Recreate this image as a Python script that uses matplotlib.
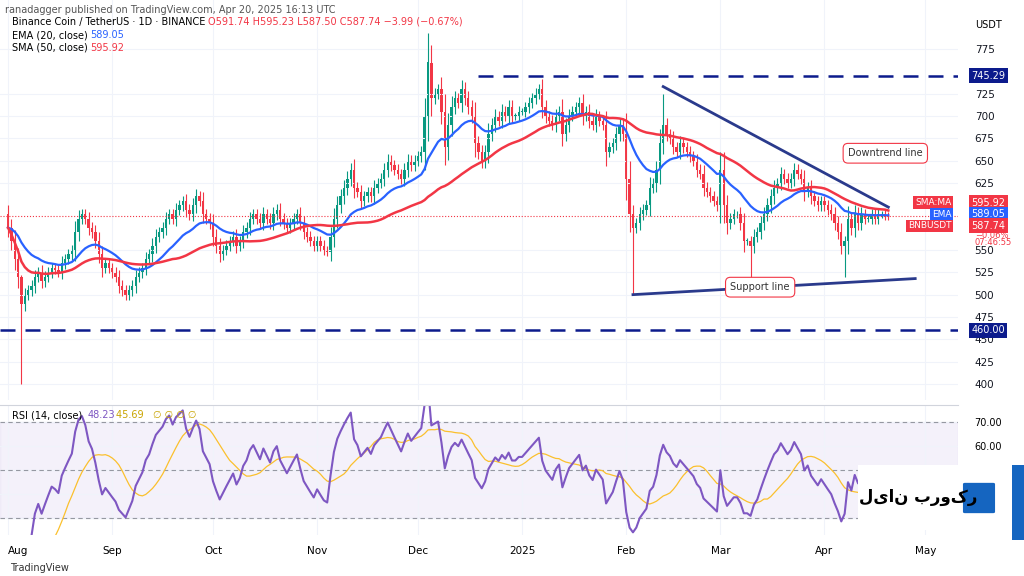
import numpy as np
import pandas as pd
import matplotlib.pyplot as plt
from matplotlib.patches import Rectangle, FancyBboxPatch

# daily closes, Aug 1 2024 .. Apr 20 2025
aug = [575,560,540,520,490,500,505,510,520,525,515,520,525,530,528,525,535,540,545,550,570,585,590,585,575,570,560,545,530,535,530]
sep = [525,520,510,505,500,505,510,520,525,530,540,545,555,565,570,575,585,590,585,595,600,605,595,590,600,610,605,590,585,580]
oct_ = [565,555,545,550,555,560,565,555,560,570,575,585,590,585,580,590,585,580,590,595,585,580,575,580,585,590,580,570,565,560,555]
nov = [560,555,550,548,565,585,600,610,620,630,640,620,615,605,610,615,610,620,625,630,640,650,645,640,635,630,640,650,645,650]
dec = [655,660,700,760,720,725,730,705,665,690,710,720,715,730,720,710,700,670,660,650,660,680,690,700,695,705,700,710,700,700,705]
jan = [705,710,715,720,725,730,710,700,695,690,700,705,680,690,700,705,710,715,700,705,695,690,700,695,690,660,665,670,680,690,680]
feb = [630,590,575,580,590,595,600,620,625,640,670,690,680,675,665,660,670,665,660,655,650,640,635,620,615,610,605,600]
mar = [640,600,580,585,590,590,580,560,560,555,565,570,580,590,600,610,620,625,635,630,625,630,640,635,630,615,620,610,605,600,605]
apr = [600,595,590,580,570,555,560,585,575,590,580,590,585,585,590,585,590,590,588,587.74]
closes = aug + sep + oct_ + nov + dec + jan + feb + mar + apr
first_open = 590
# notable wick extremes: day index -> (high, low)
wicks = {4: (522, 400), 125: (793, None), 186: (None, 500), 195: (725, None), 221: (None, 510), 249: (None, 520)}

month_labels = ["Aug", "Sep", "Oct", "Nov", "Dec", "2025", "Feb", "Mar", "Apr", "May"]
month_days = [0, 31, 61, 92, 122, 153, 184, 212, 243, 273]
price_ticks = [400, 425, 450, 475, 500, 525, 550, 625, 650, 675, 700, 725, 775]

c = pd.Series(closes, dtype=float)
o = c.shift(1).fillna(first_open)
hi = np.maximum(o, c) + (c - o).abs() * 0.4 + 4
lo = np.minimum(o, c) - (c - o).abs() * 0.4 - 4
for d, (h, l) in wicks.items():
    if h is not None: hi[d] = h
    if l is not None: lo[d] = l
ema = c.ewm(span=20, adjust=False).mean()
sma = c.rolling(50, min_periods=1).mean()
delta = c.diff().fillna(0)
gain = delta.clip(lower=0).ewm(alpha=1/14, adjust=False).mean()
loss = (-delta.clip(upper=0)).ewm(alpha=1/14, adjust=False).mean()
rsi = 100 - 100 / (1 + gain / loss.replace(0, 1e-9))
rsi_ma = rsi.rolling(14, min_periods=1).mean()

UP, DN = "#089981", "#f23645"
NAVY = "#0c1b8c"
fig = plt.figure(figsize=(10.24, 5.76), dpi=100)
W, H = 1024, 576
ax = fig.add_axes([0, (H - 400) / H, 958 / W, 400 / H])
ax2 = fig.add_axes([0, (H - 535) / H, 958 / W, 130 / H], sharex=ax)
xlim = (-8 / 3.36, 950 / 3.36)
ax.set_xlim(*xlim)
ax.set_ylim(382, 830)
ax2.set_ylim(22.9, 77.1)

days = np.arange(len(closes))
for d in days:
    col = UP if c[d] >= o[d] else DN
    ax.vlines(d, lo[d], hi[d], color=col, lw=0.8)
    b = min(o[d], c[d]); h = max(abs(c[d] - o[d]), 0.8)
    ax.add_patch(Rectangle((d - 0.35, b), 0.7, h, color=col, lw=0))
ax.plot(days, ema, color="#2962ff", lw=1.6)
ax.plot(days, sma, color="#f23645", lw=1.8)
ax.axhline(745.29, xmin=(140 - xlim[0]) / (xlim[1] - xlim[0]), color=NAVY, ls=(0, (6, 4)), lw=1.8)
ax.axhline(460, color=NAVY, ls=(0, (6, 4)), lw=1.8)
ax.axhline(587.74, color=DN, ls=":", lw=0.8)
ax.plot([195, 262], [733, 598], color="#2a3a8c", lw=2)
ax.plot([186, 270], [500, 518], color="#2a3a8c", lw=2)
for txt, xy in [("Downtrend line", (250, 655)), ("Support line", (215, 505))]:
    ax.text(xy[0], xy[1], txt, fontsize=7, color="#333333",
            bbox=dict(boxstyle="round,pad=0.5", fc="white", ec=DN, lw=0.8))

ax.yaxis.tick_right()
ax.set_yticks(price_ticks)
ax.tick_params(axis="y", length=0, labelsize=7.5, colors="#131722", pad=12)
ax.tick_params(axis="x", bottom=False, labelbottom=False)
for s in ax.spines.values(): s.set_visible(False)
ax.grid(color="#f0f3fa", lw=0.8)

def tag(axis, y, text, color):
    axis.text(xlim[1] + 4, y, text, color="white", fontsize=7, va="center", ha="left",
              bbox=dict(boxstyle="square,pad=0.25", fc=color, ec="none"), clip_on=False)
tag(ax, 745.29, "745.29", NAVY)
tag(ax, 460, "460.00", NAVY)
tag(ax, 603, "595.92", DN)
tag(ax, 590, "589.05", "#2962ff")
tag(ax, 577, "587.74", DN)
for y, t, colr in [(603, "SMA:MA", DN), (590, "EMA", "#2962ff"), (577, "BNBUSDT", DN)]:
    ax.text(xlim[1] - 2, y, t, fontsize=6.5, color="white", ha="right", va="center",
            bbox=dict(boxstyle="square,pad=0.2", fc=colr, ec="none"))
ax.text(xlim[1] + 5, 566.5, "−0.06%", fontsize=6, color=DN, va="center", clip_on=False)
ax.text(xlim[1] + 5, 558, "07:46:55", fontsize=6, color=DN, va="center", clip_on=False)

ax2.axhspan(30, 70, color="#7e57c2", alpha=0.08)
for lv in (70, 50, 30):
    ax2.axhline(lv, color="#9598a1", ls=(0, (4, 3)), lw=0.8)
ax2.plot(days, rsi_ma, color="#fbc02d", lw=0.9)
ax2.plot(days, rsi, color="#7e57c2", lw=1.5)
ax2.yaxis.tick_right()
ax2.set_yticks([30, 40, 50, 60, 70])
ax2.set_yticklabels(["30.00", "40.00", "50.00", "60.00", "70.00"])
ax2.tick_params(axis="y", length=0, labelsize=7, pad=12)
ax2.set_xticks(month_days)
ax2.set_xticklabels(month_labels)
ax2.get_xticklabels()[0].set_horizontalalignment("left")
ax2.tick_params(axis="x", length=0, labelsize=7.5, pad=8)
for s in ax2.spines.values(): s.set_visible(False)
ax2.spines["top"].set_visible(True); ax2.spines["top"].set_color("#d1d4dc")
ax2.grid(color="#f0f3fa", lw=0.8)

fig.text(5 / W, 1 - 5 / H, "ranadagger published on TradingView.com, Apr 20, 2025 16:13 UTC",
         fontsize=7, color="#555555", va="top")
fig.text(12 / W, 1 - 22 / H, "Binance Coin / TetherUS · 1D · BINANCE", fontsize=7, va="center")
fig.text(208 / W, 1 - 22 / H, "O591.74 H595.23 L587.50 C587.74 −3.99 (−0.67%)", fontsize=7, color=DN, va="center")
fig.text(12 / W, 1 - 35 / H, "EMA (20, close)", fontsize=7, va="center")
fig.text(90 / W, 1 - 35 / H, "589.05", fontsize=7, color="#2962ff", va="center")
fig.text(12 / W, 1 - 48 / H, "SMA (50, close)", fontsize=7, va="center")
fig.text(90 / W, 1 - 48 / H, "595.92", fontsize=7, color=DN, va="center")
fig.text(12 / W, 1 - 415 / H, "RSI (14, close)", fontsize=7, va="center")
fig.text(88 / W, 1 - 415 / H, "48.23", fontsize=7, color="#7e57c2", va="center")
fig.text(116 / W, 1 - 415 / H, "45.69   ∅ ∅ ∅ ∅", fontsize=7, color="#c9a400", va="center")
fig.text(975 / W, 1 - 25 / H, "USDT", fontsize=7, va="center")
fig.text(10 / W, 1 - 568 / H, "TradingView", fontsize=7, color="#333333", va="center")

# broker watermark box
fig.patches.append(FancyBboxPatch((858 / W, (H - 530) / H), 150 / W, 65 / H, boxstyle="square,pad=0",
                                  fc="white", ec="none", transform=fig.transFigure))
fig.patches.append(Rectangle((1012 / W, (H - 540) / H), 12 / W, 75 / H, fc="#1565c0",
                             transform=fig.transFigure))
fig.text(918 / W, 1 - 497 / H, "لیان بروکر", fontsize=12, weight="bold", ha="center", va="center")
fig.patches.append(FancyBboxPatch((965 / W, (H - 512) / H), 28 / W, 28 / H, boxstyle="round,pad=0.002",
                                  fc="#1565c0", ec="none", transform=fig.transFigure))

fig.savefig("out.png", dpi=100, facecolor="white")
